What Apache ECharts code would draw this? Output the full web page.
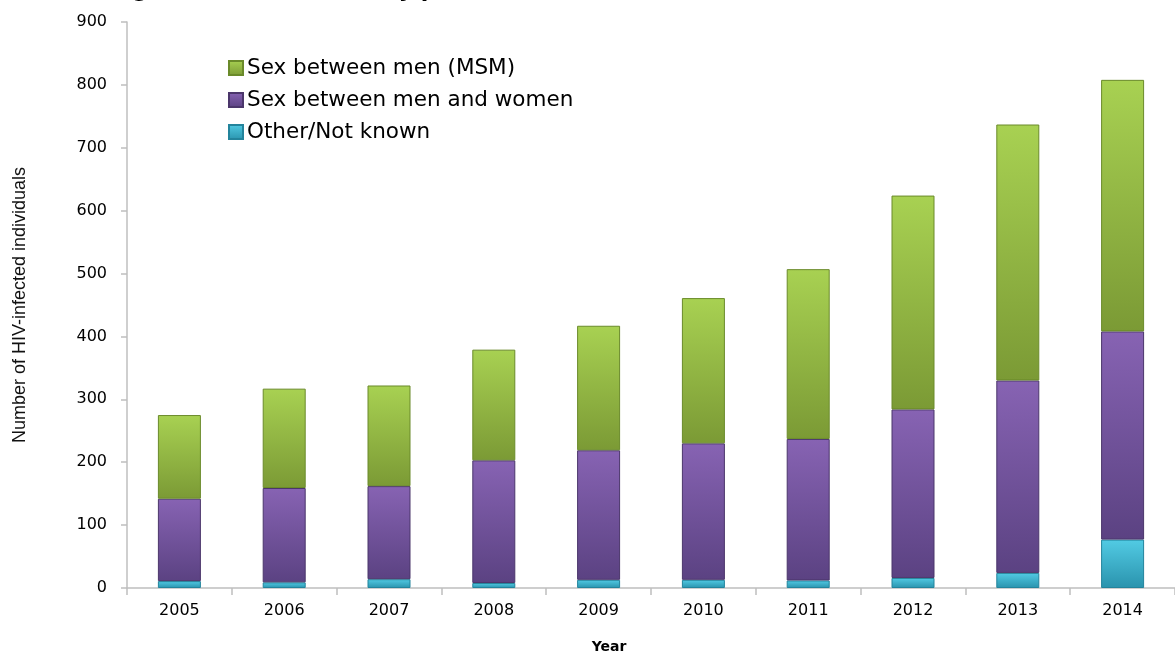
<!DOCTYPE html>
<html>
<head>
<meta charset="utf-8">
<script src="https://cdn.jsdelivr.net/npm/echarts@6/dist/echarts.min.js"></script>
<style>html,body{margin:0;padding:0;background:#fff;}#c{width:1175px;height:659px;}</style>
</head>
<body>
<div id="c"></div>
<script>
const years = ['2005','2006','2007','2008','2009','2010','2011','2012','2013','2014'];
const otherNotKnown = [11, 9, 14, 8, 13, 13, 12, 16, 24, 77];
const menAndWomen = [131, 150, 148, 195, 206, 217, 225, 268, 306, 331];
const msm = [133, 158, 160, 176, 198, 231, 270, 340, 407, 400];
const yTicks = [0, 100, 200, 300, 400, 500, 600, 700, 800, 900];
const titleText = 'HIV diagnoses in Scotland, by probable route of transmission, 2005–2014';

const FONT = 'DejaVu Sans';
function grad(top, bottom) {
  return new echarts.graphic.LinearGradient(0, 0, 0, 1, [
    {offset: 0, color: top}, {offset: 1, color: bottom}
  ]);
}
const chart = echarts.init(document.getElementById('c'), null, {renderer: 'canvas'});
chart.setOption({
  backgroundColor: '#ffffff',
  animation: false,
  title: {
    text: titleText,
    left: 38, top: -25,
    textStyle: {fontFamily: FONT, fontSize: 22, fontWeight: 'bold', color: '#000'}
  },
  legend: {
    orient: 'vertical',
    left: 223, top: 52,
    itemGap: 10,
    itemWidth: 14, itemHeight: 14,
    icon: 'rect',
    data: ['Sex between men (MSM)', 'Sex between men and women', 'Other/Not known'],
    textStyle: {fontFamily: FONT, fontSize: 21.5, color: '#000', padding: [0, 0, 0, -1]}
  },
  grid: {left: 127, top: 22, width: 1058, height: 572, containLabel: false},
  xAxis: {
    type: 'category',
    data: years,
    name: 'Year',
    nameLocation: 'middle',
    nameGap: 52,
    nameTextStyle: {fontFamily: FONT, fontSize: 14, fontWeight: 'bold', color: '#000', padding: [0, 84, 0, 0]},
    axisLine: {lineStyle: {color: '#bfbfbf', width: 1.5}},
    axisTick: {show: true, length: 7, lineStyle: {color: '#bfbfbf', width: 1.5}},
    axisLabel: {fontFamily: FONT, fontSize: 16, color: '#000', margin: 15}
  },
  yAxis: {
    type: 'value',
    min: yTicks[0], max: yTicks[yTicks.length - 1], interval: yTicks[1] - yTicks[0],
    name: 'Number of HIV-infected individuals',
    nameLocation: 'middle',
    nameGap: 98,
    nameTextStyle: {fontFamily: 'Liberation Sans', fontSize: 18, color: '#111'},
    axisLine: {show: true, lineStyle: {color: '#bfbfbf', width: 1.5}},
    axisTick: {show: true, length: 6, lineStyle: {color: '#bfbfbf', width: 1.5}},
    splitLine: {show: false},
    axisLabel: {fontFamily: FONT, fontSize: 16, color: '#000', margin: 20}
  },
  series: [
    {
      name: 'Other/Not known', type: 'bar', stack: 'total', data: otherNotKnown,
      barWidth: 43,
      itemStyle: {color: grad('#52cbe4', '#2a93ad'), borderColor: '#23849c', borderWidth: 1}
    },
    {
      name: 'Sex between men and women', type: 'bar', stack: 'total', data: menAndWomen,
      barWidth: 43,
      itemStyle: {color: grad('#8763b3', '#5b4282'), borderColor: '#4b366b', borderWidth: 1}
    },
    {
      name: 'Sex between men (MSM)', type: 'bar', stack: 'total', data: msm,
      barWidth: 43,
      itemStyle: {color: grad('#a8d152', '#7b9a35'), borderColor: '#6a8a2a', borderWidth: 1}
    }
  ]
});
</script>
</body>
</html>
